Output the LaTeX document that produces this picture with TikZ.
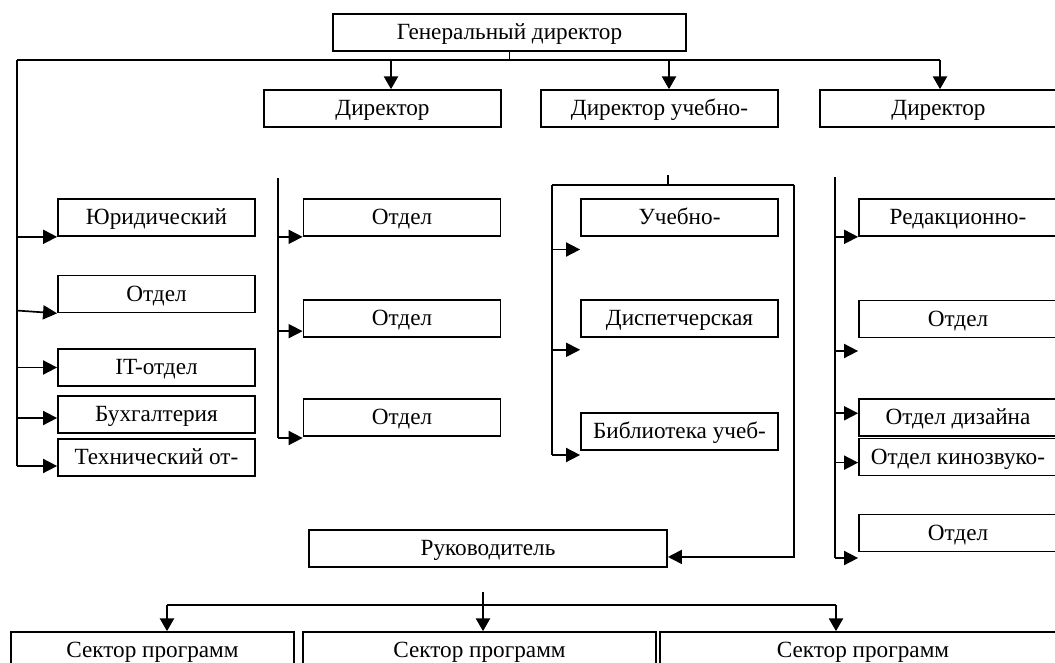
\documentclass[tikz,border=0pt]{standalone}
\usepackage{fontspec}
\setmainfont{Liberation Serif}
\usetikzlibrary{arrows.meta}

\begin{document}
\begin{tikzpicture}[
	x=0.025cm, y=-0.025cm,
	line width=1.2pt,
	font=\fontsize{16.5}{19}\selectfont
]
\tikzset{
    box/.style = {rectangle, draw=black, inner sep=0pt, minimum height=0.925cm,
                  text height=10.6pt, text depth=0pt},
    boxa/.style = {box, minimum width=4.925cm},
    boxb/.style = {box, minimum width=5.925cm},
    arr/.style = {-{Triangle[length=10pt,width=10pt]}},
    arrd/.style = {-{Triangle[length=9pt,width=10pt]}},
}
\useasboundingbox (0,0) rectangle (1055,663);
% top level
\node[box, minimum width=8.825cm] at (509.5, 32.5) (gd) {Генеральный директор};
\node[boxb] at (382.5, 108.5) (dir1) {Директор};
\node[boxb] at (659.5, 108.5) (dir2) {Директор учебно-};
\node[boxb] at (938.5, 108.5) (dir3) {Директор};
%
\coordinate (hl) at (17, 60);
\coordinate (hr) at (940, 60);
\coordinate (a1) at (391, 60);
\coordinate (a2) at (669, 60);
\draw (gd.south) -- (gd.south |- hl);
\draw (hl) -- (hr);
\draw[arrd] (a1) -- (a1 |- dir1.north);
\draw[arrd] (a2) -- (a2 |- dir2.north);
\draw[arrd] (hr) -- (hr |- dir3.north);
% column 1
\node[boxa] at (156.5, 217.5) (yur) {Юридический};
\node[boxa] at (156.5, 294.0) (otd1) {Отдел};
\node[boxa] at (156.5, 367.5) (it) {IT-отдел};
\node[boxa] at (156.5, 414.5) (buh) {Бухгалтерия};
\node[boxa] at (156.5, 457.5) (tech) {Технический от-};
\coordinate (c1b) at (17, 466);
\draw (hl) -- (c1b);
\draw[arr] (hl |- yur.south west) -- (yur.south west);
\draw[arr] ([yshift=2pt]hl |- otd1.south west) -- (otd1.south west);
\draw[arr] (hl |- it.west) -- (it.west);
\draw[arr] ([yshift=-2.5pt]hl |- buh.west) -- ([yshift=-2.5pt]buh.west);
\draw[arr] (c1b) -- (c1b -| tech.west);
% column 2
\node[boxa] at (402, 217.5) (o21) {Отдел};
\node[boxa] at (402, 318.5) (o22) {Отдел};
\node[boxa] at (402, 417.5) (o23) {Отдел};
\coordinate (c2t) at (278, 178);
\coordinate (c2b) at (278, 438);
\draw (c2t) -- (c2b);
\draw[arr] (c2t |- o21.south west) -- (o21.south west);
\draw[arr] ([yshift=-9pt]c2t |- o22.west) -- ([yshift=-9pt]o22.west);
\draw[arr] (c2b) -- (c2b -| o23.west);
% column 3
\node[boxa] at (679.5, 217.5) (ucheb) {Учебно-};
\node[boxa] at (679.5, 318.5) (disp) {Диспетчерская};
\node[boxa] at (679.5, 431.5) (bibl) {Библиотека учеб-};
\coordinate (c3k) at (668, 175);
\coordinate (c3l) at (552, 185);
\coordinate (c3r) at (794, 185);
\coordinate (c3b) at (552, 455);
\draw (c3k) -- (c3k |- c3l);
\draw (c3l) -- (c3r);
\draw (c3l) -- (c3b);
\draw[arr] ([yshift=-9pt]c3l |- ucheb.south west) -- ([yshift=-9pt]ucheb.south west);
\draw[arr] ([yshift=-8.5pt]c3l |- disp.south west) -- ([yshift=-8.5pt]disp.south west);
\draw[arr] (c3b) -- (c3b -| bibl.west);
% column 4
\node[boxa, minimum width=4.95cm] at (958, 217.5) (red) {Редакционно-};
\node[boxa, minimum width=4.95cm] at (958, 319.0) (o41) {Отдел};
\node[boxa, minimum width=4.95cm] at (958, 417.5) (diz) {Отдел дизайна};
\node[boxa, minimum width=4.95cm] at (958, 457.0) (kino) {Отдел кинозвуко-};
\node[boxa, minimum width=4.95cm] at (958, 533.0) (o42) {Отдел};
\coordinate (c4t) at (835, 177);
\coordinate (c4b) at (835, 558);
\draw (c4t) -- (c4b);
\draw[arr] (c4t |- red.south west) -- (red.south west);
\draw[arr] ([yshift=-9pt]c4t |- o41.south west) -- ([yshift=-9pt]o41.south west);
\draw[arr] ([yshift=3pt]c4t |- diz.west) -- ([yshift=3pt]diz.west);
\draw[arr] ([yshift=-4pt]c4t |- kino.west) -- ([yshift=-4pt]kino.west);
\draw[arr] (c4b) -- (c4b -| o42.west);
% head of sectors
\node[box, minimum width=8.95cm] at (488, 548.5) (ruk) {Руководитель};
\draw[arr] (c3r) |- ([yshift=-6pt]ruk.east);
% sectors
\node[box, minimum width=7.075cm] at (152.5, 650.5) (sec1) {Сектор программ};
\node[box, minimum width=8.825cm] at (479.5, 650.5) (sec2) {Сектор программ};
\node[box, minimum width=10.15cm] at (863, 650.5) (sec3) {Сектор программ};
\coordinate (bk) at (483, 592);
\coordinate (bl) at (167, 605);
\coordinate (bm) at (483, 605);
\coordinate (br) at (836, 605);
\draw (bk) -- (bm);
\draw (bl) -- (br);
\draw[arrd] (bl) -- (bl |- sec1.north);
\draw[arrd] (bm) -- (bm |- sec2.north);
\draw[arrd] (br) -- (br |- sec3.north);
\end{tikzpicture}
\end{document}
